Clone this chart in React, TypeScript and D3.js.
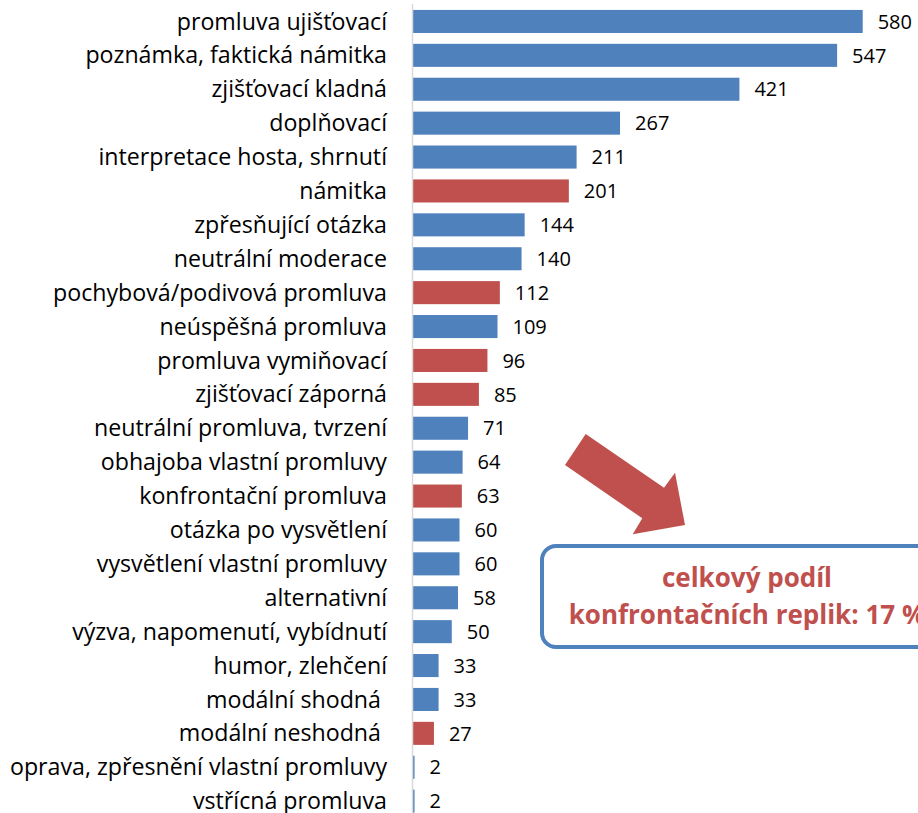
import React, { useRef, useEffect } from "react";
import { select, scaleBand, scaleLinear } from "d3";

const WIDTH = 918;
const HEIGHT = 813;
const COLOR_BLUE = "#4f81bd";
const COLOR_RED = "#c0504d";
const COLOR_AXIS = "#d9d9d9";
const FONT = "'Open Sans', 'Noto Sans', sans-serif";

const categories = [
  "promluva ujišťovací",
  "poznámka, faktická námitka",
  "zjišťovací kladná",
  "doplňovací",
  "interpretace hosta, shrnutí",
  "námitka",
  "zpřesňující otázka",
  "neutrální moderace",
  "pochybová/podivová promluva",
  "neúspěšná promluva",
  "promluva vymiňovací",
  "zjišťovací záporná",
  "neutrální promluva, tvrzení",
  "obhajoba vlastní promluvy",
  "konfrontační promluva",
  "otázka po vysvětlení",
  "vysvětlení vlastní promluvy",
  "alternativní",
  "výzva, napomenutí, vybídnutí",
  "humor, zlehčení",
  "modální shodná ",
  "modální neshodná ",
  "oprava, zpřesnění vlastní promluvy",
  "vstřícná promluva"
];
const counts = [580, 547, 421, 267, 211, 201, 144, 140, 112, 109, 96, 85, 71, 64, 63, 60, 60, 58, 50, 33, 33, 27, 2, 2];
// confrontational reply types are highlighted in red
const confrontational = [
  "námitka",
  "pochybová/podivová promluva",
  "promluva vymiňovací",
  "zjišťovací záporná",
  "konfrontační promluva",
  "modální neshodná "
];
const noteLines = ["celkový podíl", "konfrontačních replik: 17 %"];

const drawChart = (svg) => {
  const y = scaleBand()
    .domain(categories)
    .range([4.5, 4.5 + 24 * 33.9])
    .paddingInner(0.32)
    .paddingOuter(0.16);
  const x = scaleLinear().domain([0, 580]).range([413, 862.7]);

  const rows = categories.map((c, i) => ({ name: c, value: counts[i] }));

  svg
    .selectAll("rect.bar")
    .data(rows)
    .enter()
    .append("rect")
    .attr("class", "bar")
    .attr("x", x(0))
    .attr("y", (d) => y(d.name))
    .attr("width", (d) => x(d.value) - x(0))
    .attr("height", y.bandwidth())
    .attr("fill", (d) => (confrontational.includes(d.name) ? COLOR_RED : COLOR_BLUE));

  svg
    .append("line")
    .attr("x1", x(0) - 0.5)
    .attr("x2", x(0) - 0.5)
    .attr("y1", 4)
    .attr("y2", HEIGHT)
    .attr("stroke", COLOR_AXIS)
    .attr("stroke-width", 1.5);

  svg
    .selectAll("text.cat")
    .data(rows)
    .enter()
    .append("text")
    .attr("class", "cat")
    .attr("x", 387)
    .attr("y", (d) => y(d.name) + y.bandwidth() / 2)
    .attr("dy", "0.35em")
    .attr("text-anchor", "end")
    .attr("font-family", FONT)
    .attr("font-size", 23.2)
    .attr("fill", "#000")
    .style("white-space", "pre")
    .text((d) => d.name);

  svg
    .selectAll("text.val")
    .data(rows)
    .enter()
    .append("text")
    .attr("class", "val")
    .attr("x", (d) => x(d.value) + 15)
    .attr("y", (d) => y(d.name) + y.bandwidth() / 2)
    .attr("dy", "0.36em")
    .attr("font-family", FONT)
    .attr("font-size", 20)
    .attr("fill", "#000")
    .text((d) => d.value);
};

const drawNote = (svg) => {
  // arrow pointing at the note box
  const arrow = [
    [585.7, 434],
    [664, 487.7],
    [675, 472.7],
    [685, 525],
    [632.7, 534.3],
    [642.3, 518.3],
    [565, 465]
  ];
  svg
    .append("polygon")
    .attr("points", arrow.map((p) => p.join(",")).join(" "))
    .attr("fill", COLOR_RED);

  svg
    .append("rect")
    .attr("x", 542)
    .attr("y", 546)
    .attr("width", 420)
    .attr("height", 101)
    .attr("rx", 14)
    .attr("fill", "#fff")
    .attr("stroke", COLOR_BLUE)
    .attr("stroke-width", 4);

  svg
    .selectAll("text.note")
    .data(noteLines)
    .enter()
    .append("text")
    .attr("class", "note")
    .attr("x", 747)
    .attr("y", (d, i) => 587 + i * 37)
    .attr("text-anchor", "middle")
    .attr("font-family", FONT)
    .attr("font-weight", "bold")
    .attr("font-size", 26)
    .attr("fill", COLOR_RED)
    .text((d) => d);
};

export default function App() {
  const node = useRef(null);

  useEffect(() => {
    node.current.innerHTML = "";
    const svg = select(node.current)
      .append("svg")
      .attr("width", WIDTH)
      .attr("height", HEIGHT)
      .style("display", "block");

    drawChart(svg);
    drawNote(svg);
  }, []);

  return <div ref={node} style={{ position: "absolute", left: 0, top: 0, width: WIDTH, height: HEIGHT, background: "#fff" }} />;
}
